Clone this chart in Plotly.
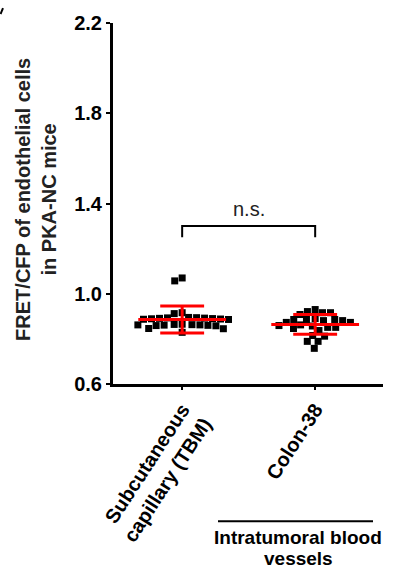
import plotly.graph_objects as go

# ---------------- data ----------------
categories = ["Subcutaneous<br>capillary (TBM)", "Colon-38"]
tbm_values = [1.070, 1.057, 0.916, 0.912, 0.895, 0.893, 0.892, 0.890, 0.889,
              0.888, 0.887, 0.886, 0.894, 0.891, 0.864, 0.862, 0.861, 0.860,
              0.863, 0.859, 0.865, 0.858, 0.862, 0.846, 0.845, 0.829]
colon_values = [0.930, 0.916, 0.908, 0.921, 0.916, 0.886, 0.886, 0.881, 0.873,
                0.873, 0.881, 0.886, 0.890, 0.859, 0.862, 0.857, 0.837, 0.851,
                0.851, 0.846, 0.815, 0.812, 0.789, 0.789, 0.758]
group_means = [0.886, 0.864]
group_sds = [0.060, 0.044]
y_ticks = [0.6, 1.0, 1.4, 1.8, 2.2]
bracket_top = 1.30
bracket_leg = 1.25
sig_label = "n.s."
sig_label_y = 1.375
y_title = "FRET/CFP of endothelial cells<br>in PKA-NC mice"
caption_lines = ["Intratumoral blood", "vessels"]

# ---------------- layout constants ----------------
W, H = 396, 570
ML, MR, MT, MB = 113, 13, 21, 186
XR = [-0.52, 1.51]
YR = [0.6, 2.2]
PW, PH = W - ML - MR, H - MT - MB
px_per_x = PW / (XR[1] - XR[0])
px_per_y = PH / (YR[1] - YR[0])
FONT = "Arial, Liberation Sans, sans-serif"
RED = "#ff0000"


def px_to_xdata(px):
    return (px - ML) / px_per_x + XR[0]


def py_to_paper(py):
    return (MT + PH - py) / PH


def px_to_paper(px):
    return (px - ML) / PW


def swarm(vals, d=8.0):
    """Beeswarm offsets (in data x units) so markers do not overlap."""
    placed = []
    xs = [0.0] * len(vals)
    order = sorted(range(len(vals)), key=lambda i: -vals[i])
    for i in order:
        y = vals[i] * px_per_y
        cands = [0.0]
        for xj, yj in placed:
            dy = y - yj
            if abs(dy) < d:
                dx = (d * d - dy * dy) ** 0.5
                cands += [xj + dx, xj - dx]
        cands.sort(key=lambda c: (abs(c), c))
        for c in cands:
            if all((c - xj) ** 2 + (y - yj) ** 2 >= d * d - 1e-6 for xj, yj in placed):
                xs[i] = c
                break
        placed.append((xs[i], y))
    return [x / px_per_x for x in xs]


fig = go.Figure()

for gi, vals in enumerate([tbm_values, colon_values]):
    offs = swarm(vals)
    fig.add_trace(go.Scatter(
        x=[gi + o for o in offs], y=vals, mode="markers",
        marker=dict(symbol="square", size=7, color="black", line=dict(width=0)),
        showlegend=False, hoverinfo="y"))

# mean +/- SD in red
ex, ey = [], []
for gi, (m, s) in enumerate(zip(group_means, group_sds)):
    ex += [gi - 0.33, gi + 0.33, None]
    ey += [m, m, None]
    ex += [gi - 0.165, gi + 0.165, None, gi - 0.165, gi + 0.165, None]
    ey += [m + s, m + s, None, m - s, m - s, None]
    ex += [gi, gi, None]
    ey += [m - s, m + s, None]
fig.add_trace(go.Scatter(x=ex, y=ey, mode="lines",
                         line=dict(color=RED, width=3),
                         showlegend=False, hoverinfo="skip"))

# significance bracket
fig.add_trace(go.Scatter(x=[0, 0, 1, 1],
                         y=[bracket_leg, bracket_top, bracket_top, bracket_leg],
                         mode="lines", line=dict(color="black", width=2),
                         showlegend=False, hoverinfo="skip"))
fig.add_annotation(x=0.5, y=sig_label_y, text=sig_label, showarrow=False,
                   font=dict(family=FONT, size=20, color="#222"))

# y-axis title
fig.add_annotation(xref="paper", yref="paper", x=px_to_paper(36),
                   y=0.51, text=y_title, textangle=-90, showarrow=False,
                   font=dict(family=FONT, size=20, color="#222", weight="bold"),
                   xanchor="center", yanchor="middle")

# group caption with line
fig.add_shape(type="line", xref="x", yref="paper",
              x0=px_to_xdata(218), x1=px_to_xdata(373),
              y0=py_to_paper(522), y1=py_to_paper(522),
              line=dict(color="black", width=2))
for line_text, cy in zip(caption_lines, [538, 559]):
    fig.add_annotation(xref="x", yref="paper", x=px_to_xdata(298),
                       y=py_to_paper(cy), text=line_text, showarrow=False,
                       xanchor="center", yanchor="middle",
                       font=dict(family=FONT, size=19, color="black", weight="bold"))

# remnant of a panel letter at the top-left corner
fig.add_shape(type="line", xref="paper", yref="paper",
              x0=px_to_paper(0.5), x1=px_to_paper(3),
              y0=py_to_paper(12), y1=py_to_paper(6),
              line=dict(color="black", width=2))

fig.update_layout(
    width=W, height=H, margin=dict(l=ML, r=MR, t=MT, b=MB),
    paper_bgcolor="white", plot_bgcolor="white",
    font=dict(family=FONT, color="black"),
    xaxis=dict(range=XR, tickvals=[0, 1], ticktext=categories,
               tickangle=-57, showline=True, linecolor="black", linewidth=3,
               ticks="outside", ticklen=3, tickwidth=2, tickcolor="black",
               showgrid=False, zeroline=False,
               tickfont=dict(family=FONT, size=20, color="black", weight="bold")),
    yaxis=dict(range=YR, tickvals=y_ticks, tickformat=".1f",
               showline=True, linecolor="black", linewidth=3,
               ticks="outside", ticklen=4, tickwidth=2, tickcolor="black",
               showgrid=False, zeroline=False,
               tickfont=dict(family=FONT, size=20, color="black", weight="bold")),
)

fig.write_html("out.html")
